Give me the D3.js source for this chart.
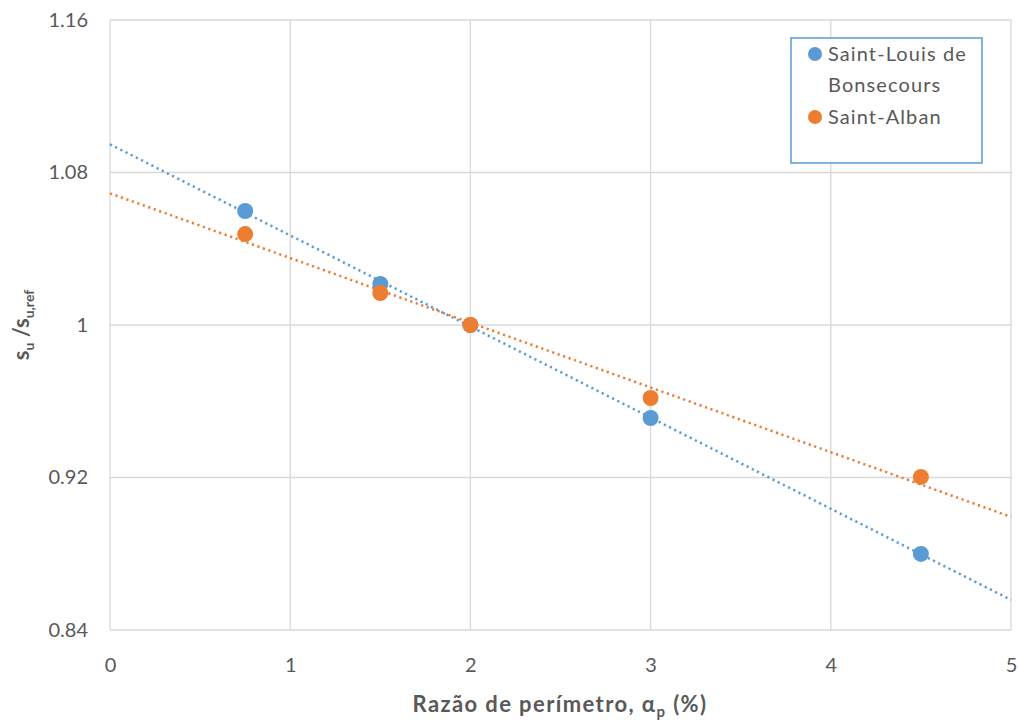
<!DOCTYPE html>
<html>
<head>
<meta charset="utf-8">
<script src="https://cdn.jsdelivr.net/npm/d3@7"></script>
<style>
  html, body { margin: 0; padding: 0; background: #fff; }
  svg { display: block; font-family: Lato, "Open Sans", sans-serif; }
</style>
</head>
<body>
<svg id="chart" width="1018" height="720"></svg>
<script>
// Perimeter ratio (%) at which each site was evaluated
const ratios = [0.75, 1.5, 2, 3, 4.5];
// Normalised strength su/su,ref per site
const saintLouis = [1.0598, 1.0215, 1.0, 0.9512, 0.8799];
const saintAlban = [1.0477, 1.0168, 1.0, 0.9617, 0.9203];
const seriesNames = ["Saint-Louis de Bonsecours", "Saint-Alban"];
const xTicks = [0, 1, 2, 3, 4, 5];
const yTicks = [0.84, 0.92, 1.0, 1.08, 1.16];

const colors = ["#5B9BD5", "#ED7D31"];
const series = [saintLouis, saintAlban].map((vals, i) => ({
  name: seriesNames[i],
  color: colors[i],
  points: ratios.map((x, j) => ({ x, y: vals[j] }))
}));

const svg = d3.select("#chart");
const plotL = 110, plotR = 1011, plotT = 20, plotB = 630;

const x = d3.scaleLinear().domain([0, 5]).range([plotL, plotR]);
const y = d3.scaleLinear().domain([0.84, 1.16]).range([plotB, plotT]);

// Gridlines
const grid = svg.append("g");
grid.selectAll("line.h").data(yTicks).join("line")
  .attr("x1", plotL).attr("x2", plotR)
  .attr("y1", d => y(d)).attr("y2", d => y(d))
  .attr("stroke", "#d9d9d9").attr("stroke-width", 1.3);
grid.selectAll("line.v").data(xTicks).join("line")
  .attr("y1", plotT).attr("y2", plotB)
  .attr("x1", d => x(d)).attr("x2", d => x(d))
  .attr("stroke", "#d9d9d9").attr("stroke-width", 1.3);

// Axes (labels only; the lines come from the grid)
const fmtY = d => (d === 1 ? "1" : d3.format(".2f")(d));
const yAxis = svg.append("g")
  .attr("transform", `translate(${plotL - 22},0)`)
  .call(d3.axisLeft(y).tickValues(yTicks).tickFormat(fmtY).tickSize(0).tickPadding(0));
const xAxis = svg.append("g")
  .attr("transform", `translate(0,${plotB + 35})`)
  .call(d3.axisBottom(x).tickValues(xTicks).tickFormat(d3.format("d")).tickSize(0).tickPadding(0));
[xAxis, yAxis].forEach(a => {
  a.select(".domain").remove();
  a.selectAll("text").attr("fill", "#595959").style("font-size", "20px")
    .style("font-family", "Lato, 'Open Sans', sans-serif");
});
xAxis.selectAll("text").attr("dy", "0.35em");

// Linear trend lines (least squares) across the full x-range
function fit(pts) {
  const mx = d3.mean(pts, p => p.x), my = d3.mean(pts, p => p.y);
  const sxy = d3.sum(pts, p => (p.x - mx) * (p.y - my));
  const sxx = d3.sum(pts, p => (p.x - mx) ** 2);
  const b = sxy / sxx;
  return { a: my - b * mx, b };
}
const line = d3.line().x(d => x(d[0])).y(d => y(d[1]));
series.forEach(s => {
  const f = fit(s.points);
  svg.append("path")
    .datum([[0, f.a], [5, f.a + 5 * f.b]])
    .attr("d", line)
    .attr("fill", "none")
    .attr("stroke", s.color)
    .attr("stroke-width", 2.5)
    .attr("stroke-dasharray", "2.2,3.6");
});

// Markers (second series drawn on top)
series.forEach(s => {
  svg.append("g").selectAll("circle").data(s.points).join("circle")
    .attr("cx", d => x(d.x)).attr("cy", d => y(d.y))
    .attr("r", 8).attr("fill", s.color);
});

// Axis titles
svg.append("text")
  .attr("x", 560).attr("y", 712)
  .attr("text-anchor", "middle")
  .attr("fill", "#595959").style("font-size", "22px").style("font-weight", "bold")
  .style("letter-spacing", "1.4px")
  .call(t => {
    t.append("tspan").text("Razão de perímetro, α");
    t.append("tspan").attr("dy", 5).style("font-size", "15px").text("p");
    t.append("tspan").attr("dy", -5).text(" (%)");
  });

svg.append("text")
  .attr("transform", `translate(29,${(plotT + plotB) / 2}) rotate(-90)`)
  .attr("text-anchor", "middle")
  .attr("fill", "#595959").style("font-size", "22px").style("font-weight", "bold")
  .call(t => {
    t.append("tspan").text("s");
    t.append("tspan").attr("dy", 5).style("font-size", "14px").text("u");
    t.append("tspan").attr("dy", -5).text(" /s");
    t.append("tspan").attr("dy", 5).style("font-size", "14px").text("u,ref");
  });

// Legend
const lg = svg.append("g");
lg.append("rect")
  .attr("x", 791).attr("y", 38).attr("width", 191).attr("height", 125)
  .attr("fill", "#fff").attr("stroke", "#5B9BD5").attr("stroke-width", 1.5);
const legendRows = [
  { lines: ["Saint-Louis de", "Bonsecours"], color: colors[0], y: 54 },
  { lines: ["Saint-Alban"], color: colors[1], y: 117 }
];
legendRows.forEach(r => {
  lg.append("circle").attr("cx", 815).attr("cy", r.y).attr("r", 7).attr("fill", r.color);
  r.lines.forEach((ln, i) => {
    lg.append("text").attr("x", 828).attr("y", r.y + i * 31)
      .attr("dy", "0.35em").attr("fill", "#595959").style("font-size", "20px")
      .style("letter-spacing", "1.1px").text(ln);
  });
});
</script>
</body>
</html>
